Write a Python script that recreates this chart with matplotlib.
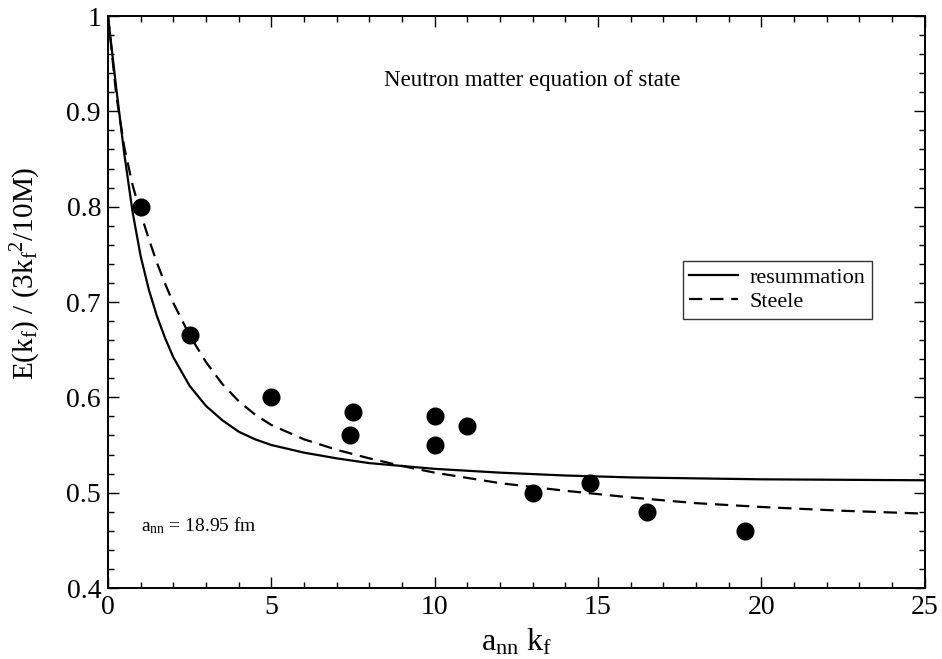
import matplotlib
matplotlib.use("Agg")
import matplotlib.pyplot as plt
from matplotlib.ticker import MultipleLocator, FixedLocator

plt.rcParams['font.family'] = ['Liberation Serif', 'DejaVu Serif']
plt.rcParams['mathtext.fontset'] = 'custom'
plt.rcParams['mathtext.rm'] = 'Liberation Serif'
plt.rcParams['mathtext.it'] = 'Liberation Serif'
plt.rcParams['mathtext.bf'] = 'Liberation Serif:bold'

# Data points (Monte Carlo results)
points_x = [1.0, 2.5, 5.0, 7.4, 7.5, 10.0, 10.0, 11.0, 13.0, 14.75, 16.5, 19.5]
points_y = [0.80, 0.665, 0.60, 0.56, 0.585, 0.55, 0.58, 0.57, 0.50, 0.51, 0.48, 0.46]

# Resummation curve
resum_x = [0.0, 0.25, 0.5, 0.75, 1.0, 1.25, 1.5, 1.75, 2.0, 2.5, 3.0, 3.5, 4.0, 4.5,
           5.0, 6.0, 7.0, 8.0, 9.0, 10.0, 12.0, 14.0, 16.0, 18.0, 20.0, 22.5, 25.0]
resum_y = [1.0, 0.925, 0.855, 0.795, 0.748, 0.713, 0.685, 0.662, 0.642, 0.612, 0.591,
           0.576, 0.564, 0.556, 0.550, 0.542, 0.536, 0.531, 0.528, 0.525, 0.521, 0.518,
           0.516, 0.515, 0.514, 0.5135, 0.513]

# Steele curve
steele_x = [0.0, 0.25, 0.5, 0.75, 1.0, 1.25, 1.5, 1.75, 2.0, 2.5, 3.0, 3.5, 4.0, 4.5,
            5.0, 6.0, 7.0, 8.0, 9.0, 10.0, 12.0, 14.0, 16.0, 18.0, 20.0, 22.5, 25.0]
steele_y = [1.0, 0.918, 0.862, 0.823, 0.793, 0.766, 0.741, 0.719, 0.699, 0.665, 0.637,
            0.614, 0.596, 0.582, 0.571, 0.556, 0.545, 0.536, 0.528, 0.521, 0.510, 0.502,
            0.495, 0.489, 0.485, 0.481, 0.478]

xticks = [0, 5, 10, 15, 20, 25]
yticks = [0.4, 0.5, 0.6, 0.7, 0.8, 0.9, 1.0]
ytick_labels = ['0.4', '0.5', '0.6', '0.7', '0.8', '0.9', '1']

fig = plt.figure(figsize=(9.42, 6.59), dpi=100)
ax = fig.add_axes([108 / 942, 1 - 588 / 659, (924.5 - 108) / 942, (588 - 16) / 659])

ax.plot(resum_x, resum_y, color='black', lw=1.6, label='resummation')
ax.plot(steele_x, steele_y, color='black', lw=1.6, dashes=(6, 3.5), label='Steele')
ax.plot(points_x, points_y, 'o', color='black', markersize=12, zorder=3)

ax.set_xlim(0, 25)
ax.set_ylim(0.4, 1.0)
ax.xaxis.set_major_locator(FixedLocator(xticks))
ax.xaxis.set_minor_locator(MultipleLocator(1))
ax.yaxis.set_major_locator(FixedLocator(yticks))
ax.set_yticklabels(ytick_labels)
ax.yaxis.set_minor_locator(MultipleLocator(0.02))
ax.tick_params(which='both', direction='in', top=True, right=True, labelsize=20, width=1.0)
ax.tick_params(which='major', length=8, pad=5)
ax.tick_params(which='minor', length=4.5)
for s in ax.spines.values():
    s.set_linewidth(1.4)

ax.set_xlabel(r'a$_{\mathrm{nn}}$ k$_{\mathrm{f}}$', fontsize=23)
ax.xaxis.set_label_coords(0.5, -0.068)
ax.set_ylabel(r'E(k$_{\mathrm{f}}$) / (3k$_{\mathrm{f}}{}^{2}$/10M)', fontsize=21)
ax.yaxis.set_label_coords(-0.08, 0.55)

ax.text(13.0, 0.932, 'Neutron matter equation of state', fontsize=16.5, ha='center', va='center')
ax.text(1.0, 0.465, r'a$_{\mathrm{nn}}$ = 18.95 fm', fontsize=14, ha='left', va='center')

leg = ax.legend(loc='upper right', bbox_to_anchor=(872 / 942, 1 - 261 / 659),
                bbox_transform=fig.transFigure, fontsize=16, frameon=True, fancybox=False,
                edgecolor='black', handlelength=2.2, handletextpad=0.5, borderpad=0.3,
                labelspacing=0.15, borderaxespad=0)
leg.get_frame().set_linewidth(1.0)

fig.savefig('out.png', dpi=100)
